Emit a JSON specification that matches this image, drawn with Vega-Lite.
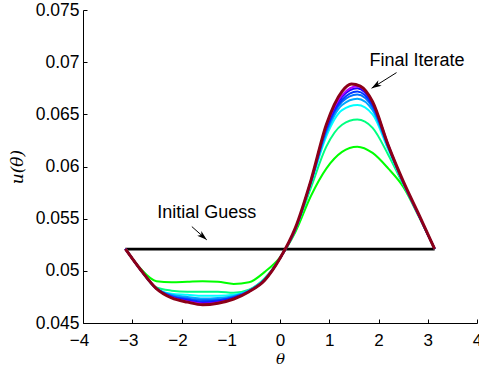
{
"$schema": "https://vega.github.io/schema/vega-lite/v6.json",
"width": 394, "height": 313,
"autosize": {"type": "none"},
"padding": {"left": 83, "top": 10, "right": 2, "bottom": 43},
"config": {"view": {"stroke": null}, "font": "Liberation Sans",
  "axis": {"grid": false, "domainColor": "#000", "tickColor": "#000", "labelColor": "#000", "labelFontSize": 17.5, "labelFont": "Liberation Sans", "tickSize": -4, "labelFlush": false, "titleFont": "DejaVu Serif", "titleFontStyle": "italic", "titleFontWeight": "normal", "titleFontSize": 17, "titleColor": "#000"}},
"datasets": {
"curves": [
{"k":"s0","t":-3.14,"u":0.05208},{"k":"s0","t":3.14,"u":0.05208},
{"k":"s1","t":-3.14,"u":0.0521},{"k":"s1","t":-2.83,"u":0.0502},{"k":"s1","t":-2.51,"u":0.049},{"k":"s1","t":-2.2,"u":0.0489},{"k":"s1","t":-1.88,"u":0.04895},{"k":"s1","t":-1.57,"u":0.049},{"k":"s1","t":-1.26,"u":0.04895},{"k":"s1","t":-0.94,"u":0.04875},{"k":"s1","t":-0.63,"u":0.0489},{"k":"s1","t":-0.31,"u":0.0499},{"k":"s1","t":0,"u":0.0513},{"k":"s1","t":0.31,"u":0.0537},{"k":"s1","t":0.63,"u":0.0572},{"k":"s1","t":0.94,"u":0.0598},{"k":"s1","t":1.26,"u":0.0614},{"k":"s1","t":1.57,"u":0.0619},{"k":"s1","t":1.88,"u":0.0613},{"k":"s1","t":2.2,"u":0.0598},{"k":"s1","t":2.51,"u":0.058},{"k":"s1","t":2.83,"u":0.0551},{"k":"s1","t":3.14,"u":0.0521},
{"k":"s2","t":-3.14,"u":0.0521},{"k":"s2","t":-2.83,"u":0.0501},{"k":"s2","t":-2.51,"u":0.0484},{"k":"s2","t":-2.2,"u":0.0481},{"k":"s2","t":-1.88,"u":0.048},{"k":"s2","t":-1.57,"u":0.048},{"k":"s2","t":-1.26,"u":0.048},{"k":"s2","t":-0.94,"u":0.0479},{"k":"s2","t":-0.63,"u":0.0482},{"k":"s2","t":-0.31,"u":0.0493},{"k":"s2","t":0,"u":0.0512},{"k":"s2","t":0.31,"u":0.0539},{"k":"s2","t":0.63,"u":0.058},{"k":"s2","t":0.94,"u":0.0619},{"k":"s2","t":1.26,"u":0.064},{"k":"s2","t":1.57,"u":0.0645},{"k":"s2","t":1.88,"u":0.0637},{"k":"s2","t":2.2,"u":0.0611},{"k":"s2","t":2.51,"u":0.0582},{"k":"s2","t":2.83,"u":0.0552},{"k":"s2","t":3.14,"u":0.0521},
{"k":"s3","t":-3.14,"u":0.0521},{"k":"s3","t":-2.83,"u":0.0501},{"k":"s3","t":-2.51,"u":0.0483},{"k":"s3","t":-2.2,"u":0.0478},{"k":"s3","t":-1.88,"u":0.0477},{"k":"s3","t":-1.57,"u":0.0476},{"k":"s3","t":-1.26,"u":0.0476},{"k":"s3","t":-0.94,"u":0.0477},{"k":"s3","t":-0.63,"u":0.0481},{"k":"s3","t":-0.31,"u":0.0492},{"k":"s3","t":0,"u":0.0512},{"k":"s3","t":0.31,"u":0.054},{"k":"s3","t":0.63,"u":0.0584},{"k":"s3","t":0.94,"u":0.0629},{"k":"s3","t":1.26,"u":0.0654},{"k":"s3","t":1.57,"u":0.0659},{"k":"s3","t":1.88,"u":0.065},{"k":"s3","t":2.2,"u":0.0616},{"k":"s3","t":2.51,"u":0.0583},{"k":"s3","t":2.83,"u":0.0552},{"k":"s3","t":3.14,"u":0.0521},
{"k":"s4","t":-3.14,"u":0.0521},{"k":"s4","t":-2.83,"u":0.0501},{"k":"s4","t":-2.51,"u":0.0483},{"k":"s4","t":-2.2,"u":0.0477},{"k":"s4","t":-1.88,"u":0.0475},{"k":"s4","t":-1.57,"u":0.04735},{"k":"s4","t":-1.26,"u":0.0474},{"k":"s4","t":-0.94,"u":0.0476},{"k":"s4","t":-0.63,"u":0.0481},{"k":"s4","t":-0.31,"u":0.0492},{"k":"s4","t":0,"u":0.0512},{"k":"s4","t":0.31,"u":0.054},{"k":"s4","t":0.63,"u":0.0585},{"k":"s4","t":0.94,"u":0.0632},{"k":"s4","t":1.26,"u":0.0659},{"k":"s4","t":1.57,"u":0.0665},{"k":"s4","t":1.88,"u":0.0654},{"k":"s4","t":2.2,"u":0.0618},{"k":"s4","t":2.51,"u":0.0584},{"k":"s4","t":2.83,"u":0.0552},{"k":"s4","t":3.14,"u":0.0521},
{"k":"s5","t":-3.14,"u":0.0521},{"k":"s5","t":-2.83,"u":0.0501},{"k":"s5","t":-2.51,"u":0.0483},{"k":"s5","t":-2.2,"u":0.0476},{"k":"s5","t":-1.88,"u":0.04735},{"k":"s5","t":-1.57,"u":0.0472},{"k":"s5","t":-1.26,"u":0.04725},{"k":"s5","t":-0.94,"u":0.0475},{"k":"s5","t":-0.63,"u":0.04805},{"k":"s5","t":-0.31,"u":0.04915},{"k":"s5","t":0,"u":0.0512},{"k":"s5","t":0.31,"u":0.054},{"k":"s5","t":0.63,"u":0.05855},{"k":"s5","t":0.94,"u":0.06345},{"k":"s5","t":1.26,"u":0.0662},{"k":"s5","t":1.57,"u":0.0669},{"k":"s5","t":1.88,"u":0.06565},{"k":"s5","t":2.2,"u":0.06185},{"k":"s5","t":2.51,"u":0.0584},{"k":"s5","t":2.83,"u":0.0552},{"k":"s5","t":3.14,"u":0.0521},
{"k":"s6","t":-3.14,"u":0.0521},{"k":"s6","t":-2.83,"u":0.0501},{"k":"s6","t":-2.51,"u":0.0483},{"k":"s6","t":-2.2,"u":0.04754},{"k":"s6","t":-1.88,"u":0.04725},{"k":"s6","t":-1.57,"u":0.04705},{"k":"s6","t":-1.26,"u":0.04715},{"k":"s6","t":-0.94,"u":0.04744},{"k":"s6","t":-0.63,"u":0.04804},{"k":"s6","t":-0.31,"u":0.04914},{"k":"s6","t":0,"u":0.0512},{"k":"s6","t":0.31,"u":0.054},{"k":"s6","t":0.63,"u":0.0586},{"k":"s6","t":0.94,"u":0.0636},{"k":"s6","t":1.26,"u":0.0664},{"k":"s6","t":1.57,"u":0.0672},{"k":"s6","t":1.88,"u":0.06585},{"k":"s6","t":2.2,"u":0.0619},{"k":"s6","t":2.51,"u":0.0584},{"k":"s6","t":2.83,"u":0.0552},{"k":"s6","t":3.14,"u":0.0521},
{"k":"s7","t":-3.14,"u":0.0521},{"k":"s7","t":-2.83,"u":0.0501},{"k":"s7","t":-2.51,"u":0.0483},{"k":"s7","t":-2.2,"u":0.04748},{"k":"s7","t":-1.88,"u":0.04714},{"k":"s7","t":-1.57,"u":0.04692},{"k":"s7","t":-1.26,"u":0.04704},{"k":"s7","t":-0.94,"u":0.04738},{"k":"s7","t":-0.63,"u":0.04802},{"k":"s7","t":-0.31,"u":0.04912},{"k":"s7","t":0,"u":0.0512},{"k":"s7","t":0.31,"u":0.054},{"k":"s7","t":0.63,"u":0.05864},{"k":"s7","t":0.94,"u":0.06378},{"k":"s7","t":1.26,"u":0.06668},{"k":"s7","t":1.57,"u":0.0675},{"k":"s7","t":1.88,"u":0.06604},{"k":"s7","t":2.2,"u":0.062},{"k":"s7","t":2.51,"u":0.0584},{"k":"s7","t":2.83,"u":0.0552},{"k":"s7","t":3.14,"u":0.0521},
{"k":"s8","t":-3.14,"u":0.0521},{"k":"s8","t":-2.83,"u":0.0501},{"k":"s8","t":-2.51,"u":0.0483},{"k":"s8","t":-2.2,"u":0.04744},{"k":"s8","t":-1.88,"u":0.04707},{"k":"s8","t":-1.57,"u":0.04684},{"k":"s8","t":-1.26,"u":0.04697},{"k":"s8","t":-0.94,"u":0.04734},{"k":"s8","t":-0.63,"u":0.04801},{"k":"s8","t":-0.31,"u":0.04911},{"k":"s8","t":0,"u":0.0512},{"k":"s8","t":0.31,"u":0.054},{"k":"s8","t":0.63,"u":0.05867},{"k":"s8","t":0.94,"u":0.06389},{"k":"s8","t":1.26,"u":0.06684},{"k":"s8","t":1.57,"u":0.0677},{"k":"s8","t":1.88,"u":0.06617},{"k":"s8","t":2.2,"u":0.06205},{"k":"s8","t":2.51,"u":0.0584},{"k":"s8","t":2.83,"u":0.0552},{"k":"s8","t":3.14,"u":0.0521},
{"k":"s9","t":-3.14,"u":0.0521},{"k":"s9","t":-2.83,"u":0.0501},{"k":"s9","t":-2.51,"u":0.0483},{"k":"s9","t":-2.2,"u":0.0474},{"k":"s9","t":-1.88,"u":0.047},{"k":"s9","t":-1.57,"u":0.04675},{"k":"s9","t":-1.26,"u":0.0469},{"k":"s9","t":-0.94,"u":0.0473},{"k":"s9","t":-0.63,"u":0.048},{"k":"s9","t":-0.31,"u":0.0491},{"k":"s9","t":0,"u":0.0512},{"k":"s9","t":0.31,"u":0.0541},{"k":"s9","t":0.63,"u":0.0587},{"k":"s9","t":0.94,"u":0.064},{"k":"s9","t":1.26,"u":0.0672},{"k":"s9","t":1.45,"u":0.0679},{"k":"s9","t":1.63,"u":0.0677},{"k":"s9","t":1.88,"u":0.0662},{"k":"s9","t":2.2,"u":0.062},{"k":"s9","t":2.51,"u":0.0585},{"k":"s9","t":2.83,"u":0.0553},{"k":"s9","t":3.14,"u":0.0521}
],
"notes": [
{"label":"Final Iterate","t":2.78,"u":0.07007},
{"label":"Initial Guess","t":-1.487,"u":0.05551}
],
"arrows": [
{"name":"final","t":2.366,"u":0.069,"t2":1.86,"u2":0.0675},
{"name":"guess","t":-1.79,"u":0.05424,"t2":-1.487,"u2":0.05297}
]
},
"layer": [
{"data": {"name": "curves"}, "transform": [{"filter": "datum.k == 's0'"}],
 "mark": {"type": "line", "color": "#000", "strokeWidth": 2.7},
 "encoding": {
  "x": {"field": "t", "type": "quantitative", "scale": {"domain": [-4, 4], "nice": false},
    "axis": {"values": [-4,-3,-2,-1,0,1,2,3,4], "format": "d", "labelFontSize": 17, "labelPadding": 13, "labelOffset": {"condition": {"test": "datum.value < 0", "value": -4}, "value": 0}, "title": "θ", "titleFontSize": 15, "titleX": 197, "titleY": 35, "titleBaseline": "middle", "titleAlign": "center"}},
  "y": {"field": "u", "type": "quantitative", "scale": {"domain": [0.045, 0.075], "zero": false, "nice": false},
    "axis": {"values": [0.045,0.05,0.055,0.06,0.065,0.07,0.075], "format": ".3~f", "labelPadding": 8, "title": "u(θ)", "titleAngle": -90, "titleX": -66, "titleY": 156.5, "titleAlign": "center", "titleBaseline": "middle"}}
 }},
{"data": {"name": "curves"}, "transform": [{"filter": "datum.k != 's0' && datum.k != 's9'"}],
 "mark": {"type": "line", "strokeWidth": 2, "interpolate": "monotone"},
 "encoding": {
  "x": {"field": "t", "type": "quantitative"},
  "y": {"field": "u", "type": "quantitative"},
  "color": {"field": "k", "type": "nominal", "legend": null,
    "scale": {"domain": ["s1","s2","s3","s4","s5","s6","s7","s8"], "range": ["#00ff00","#00ff80","#00ffff","#00a8ff","#0070ff","#0038ff","#2000ff","#b000ff"]}}
 }},
{"data": {"name": "curves"}, "transform": [{"filter": "datum.k == 's9'"}],
 "mark": {"type": "line", "color": "#8c0018", "strokeWidth": 3, "interpolate": "monotone"},
 "encoding": {"x": {"field": "t", "type": "quantitative"}, "y": {"field": "u", "type": "quantitative"}}},
{"data": {"name": "arrows"},
 "mark": {"type": "rule", "color": "#000", "strokeWidth": 1},
 "encoding": {"x": {"field": "t", "type": "quantitative"}, "y": {"field": "u", "type": "quantitative"}, "x2": {"field": "t2"}, "y2": {"field": "u2"}}},
{"data": {"name": "arrows"}, "transform": [{"filter": "datum.name == 'final'"}],
 "mark": {"type": "point", "shape": "M0,0L-0.7,2.2L0,1.6L0.7,2.2Z", "filled": true, "color": "#000", "opacity": 1, "size": 81, "angle": 238},
 "encoding": {"x": {"field": "t2", "type": "quantitative"}, "y": {"field": "u2", "type": "quantitative"}}},
{"data": {"name": "arrows"}, "transform": [{"filter": "datum.name == 'guess'"}],
 "mark": {"type": "point", "shape": "M0,0L-0.7,2.2L0,1.6L0.7,2.2Z", "filled": true, "color": "#000", "opacity": 1, "size": 81, "angle": 131},
 "encoding": {"x": {"field": "t2", "type": "quantitative"}, "y": {"field": "u2", "type": "quantitative"}}},
{"data": {"name": "notes"},
 "mark": {"type": "text", "font": "Liberation Sans", "fontSize": 18, "color": "#000", "align": "center", "baseline": "middle"},
 "encoding": {"x": {"field": "t", "type": "quantitative"}, "y": {"field": "u", "type": "quantitative"}, "text": {"field": "label"}}}
]
}
